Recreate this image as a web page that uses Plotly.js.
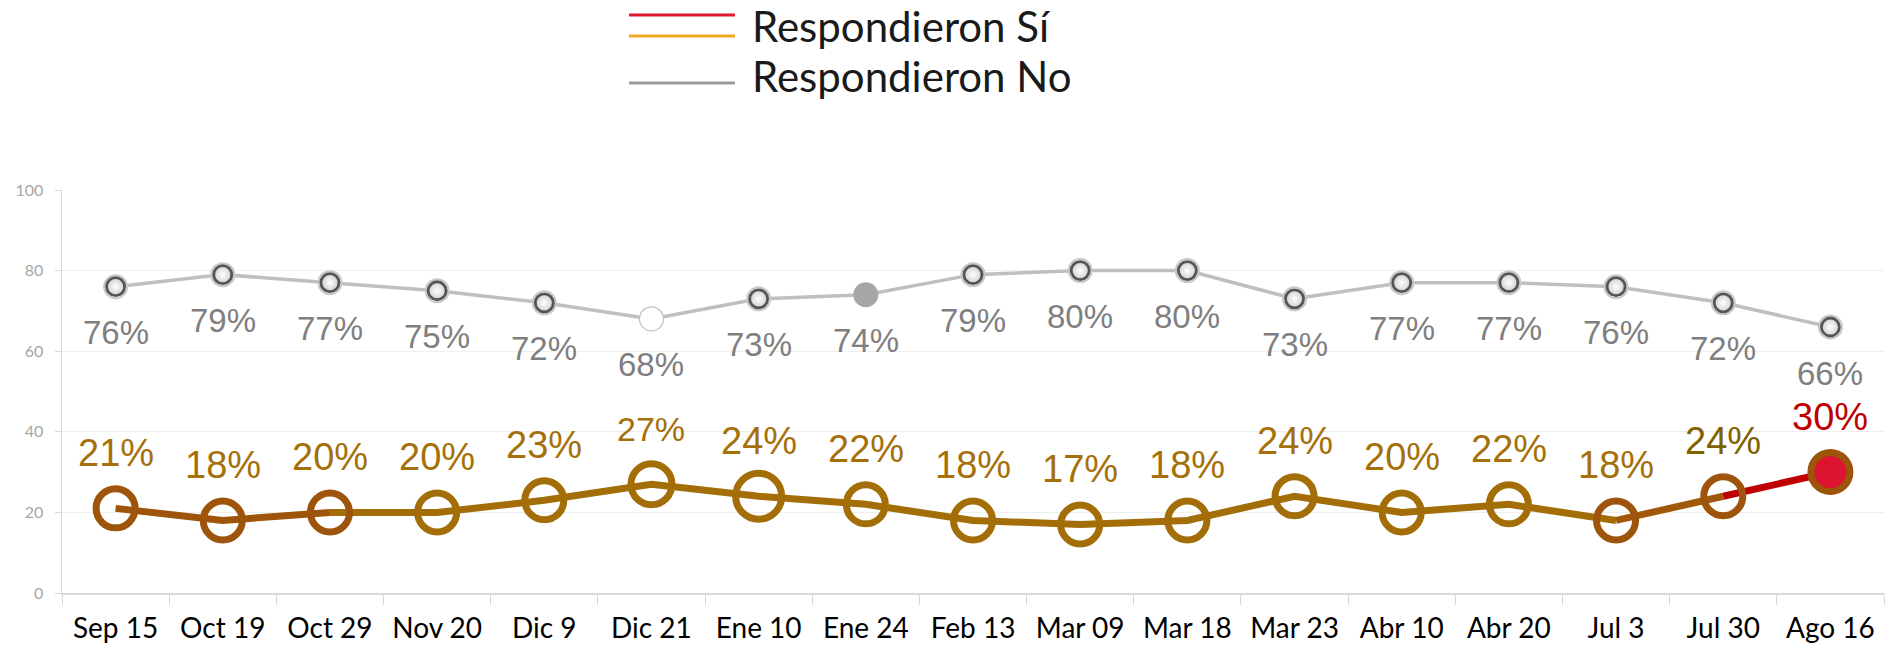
<!DOCTYPE html>
<html>
<head>
<meta charset="utf-8">
<script src="https://cdn.plot.ly/plotly-3.0.1.min.js"></script>
<style>html,body{margin:0;padding:0;background:#fff;}#chart{width:1890px;height:650px;}</style>
</head>
<body>
<div id="chart"></div>
<script>
// ---- data ----
const categories = ["Sep 15","Oct 19","Oct 29","Nov 20","Dic 9","Dic 21","Ene 10","Ene 24","Feb 13","Mar 09","Mar 18","Mar 23","Abr 10","Abr 20","Jul 3","Jul 30","Ago 16"];
const siValues = [21,18,20,20,23,27,24,22,18,17,18,24,20,22,18,24,30];
const noValues = [76,79,77,75,72,68,73,74,79,80,80,73,77,77,76,72,66];
const seriesNames = ["Respondieron Sí","Respondieron No"];
const yTicks = [0,20,40,60,80,100];

// ---- styling ----
const BROWN = "#9E540A", GOLD = "#A36E07", RED = "#C00000";
const siRingColors = categories.map((c,i)=> (i<=2 || i>=14) ? BROWN : GOLD);
const siRingSizes = categories.map((c,i)=> i===6 ? 46 : (i===5 ? 41 : 39));
const siFill = categories.map((c,i)=> i===16 ? "#DC1430" : "rgba(0,0,0,0)");
const siLabelColors = categories.map((c,i)=> i===16 ? RED : (i===15 ? "#806000" : "#A5700A"));
const siLabelSizes = categories.map((c,i)=> i===5 ? 34 : 38);

const x = categories;
const traces = [];
// Sí line segments
const segs = [[0,2,BROWN],[2,14,GOLD],[14,15,"#A0580A"],[15,16,RED]];
segs.forEach(s=>{
  traces.push({x:x.slice(s[0],s[1]+1), y:siValues.slice(s[0],s[1]+1), type:"scatter", mode:"lines",
    line:{color:s[2], width:7}, hoverinfo:"skip", showlegend:false});
});
// Sí markers
traces.push({x:x, y:siValues, type:"scatter", mode:"markers", name:seriesNames[0], showlegend:false,
  marker:{symbol:"circle", opacity:1, size:siRingSizes, color:siFill, line:{color:siRingColors, width:7}}});

// No line
traces.push({x:x, y:noValues, type:"scatter", mode:"lines", line:{color:"#BFBFBF", width:3.5}, showlegend:false, hoverinfo:"skip"});
// No halo
traces.push({x:x, y:noValues, type:"scatter", mode:"markers", showlegend:false, hoverinfo:"skip",
  marker:{symbol:"circle-open", opacity:1, size:categories.map((c,i)=> (i===5||i===7)?0.1:23), color:"#C8C8C8", line:{width:2}}});
// No markers
traces.push({x:x, y:noValues, type:"scatter", mode:"markers", name:seriesNames[1], showlegend:false,
  marker:{symbol:"circle", opacity:1,
    size:categories.map((c,i)=> i===5?24:(i===7?25:18)),
    color:categories.map((c,i)=> i===5?"#FFFFFF":(i===7?"#A6A6A6":"#D0D0D0")),
    gradient:{type:categories.map((c,i)=> (i===5||i===7)?"none":"radial"), color:"#FFFFFF"},
    line:{color:categories.map((c,i)=> i===5?"#C0C0C0":(i===7?"#A6A6A6":"#555555")),
          width:categories.map((c,i)=> i===5?1.2:(i===7?0:2.8))}}});

// data labels
const annotations = [];
categories.forEach((c,i)=>{
  annotations.push({x:c, y:noValues[i], xref:"x", yref:"y", text:noValues[i]+"%", showarrow:false,
    yshift:-46, yanchor:"middle", xanchor:"center",
    font:{family:"Liberation Sans, Arial, sans-serif", size:33, color:"#7F7F7F"}});
  annotations.push({x:c, y:siValues[i], xref:"x", yref:"y", text:siValues[i]+"%", showarrow:false,
    yshift:55, yanchor:"middle", xanchor:"center",
    font:{family:"Liberation Sans, Arial, sans-serif", size:siLabelSizes[i], color:siLabelColors[i]}});
});

// manual legend (pixel -> paper)
const L=62, W=1822, B=593, H=403;
const px = v => (v-L)/W, py = v => (B-v)/H;
const shapes = [
  {type:"line", xref:"paper", yref:"paper", x0:px(629), x1:px(735), y0:py(15), y1:py(15), line:{color:"#E01A2C", width:3}},
  {type:"line", xref:"paper", yref:"paper", x0:px(629), x1:px(735), y0:py(36), y1:py(36), line:{color:"#F2A823", width:3}},
  {type:"line", xref:"paper", yref:"paper", x0:px(629), x1:px(735), y0:py(83), y1:py(83), line:{color:"#9A9A9A", width:3}}
];
annotations.push({xref:"paper", yref:"paper", x:px(750), y:py(26), xanchor:"left", yanchor:"middle", showarrow:false,
  text:seriesNames[0], font:{family:"Lato, 'Open Sans', sans-serif", size:42, color:"#1A1A1A"}});
annotations.push({xref:"paper", yref:"paper", x:px(750), y:py(76), xanchor:"left", yanchor:"middle", showarrow:false,
  text:seriesNames[1], font:{family:"Lato, 'Open Sans', sans-serif", size:42, color:"#1A1A1A"}});

const layout = {
  width:1890, height:650,
  margin:{l:62, r:6, t:190, b:57},
  paper_bgcolor:"#FFFFFF", plot_bgcolor:"#FFFFFF",
  showlegend:false,
  xaxis:{type:"category", categoryarray:categories, range:[-0.5,16.5], showgrid:false, zeroline:false,
    showline:true, linecolor:"#D9D9D9", linewidth:1.5, ticks:"outside", tickson:"boundaries", ticklen:10, tickcolor:"#D9D9D9",
    ticklabelstandoff:10,
    tickfont:{family:"Lato, 'Open Sans', sans-serif", size:28, color:"#000000"}},
  yaxis:{range:[0,100], tickvals:yTicks, ticktext:yTicks.map(String), showgrid:true, gridcolor:"#EFEFEF", gridwidth:1.2,
    zeroline:false, showline:true, linecolor:"#D9D9D9", linewidth:1.5, ticks:"outside", ticklen:6, tickcolor:"#D9D9D9",
    ticklabelstandoff:8,
    tickfont:{family:"Lato, 'Open Sans', sans-serif", size:16, color:"#A6A6A6"}},
  annotations:annotations,
  shapes:shapes
};
Plotly.newPlot("chart", traces, layout, {displayModeBar:false, staticPlot:true});
</script>
</body>
</html>
